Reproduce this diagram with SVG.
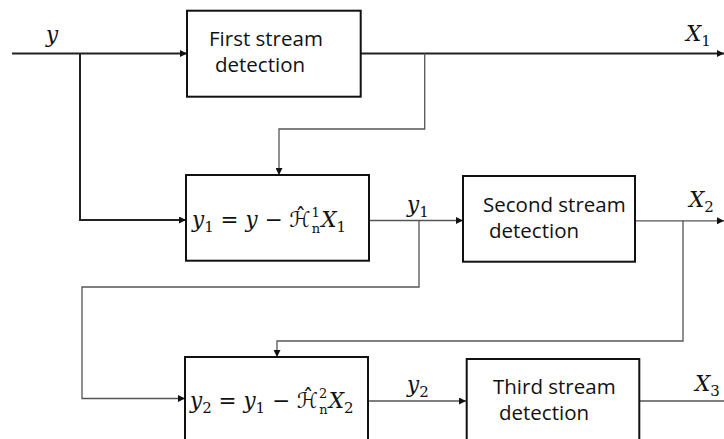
<svg xmlns="http://www.w3.org/2000/svg" width="724" height="439" viewBox="0 0 724 439">
<defs>
<marker id="ah" viewBox="0 0 10 10" refX="10" refY="5" markerWidth="7" markerHeight="7" markerUnits="userSpaceOnUse" orient="auto">
<path d="M0,0 L10,5 L0,10 z" fill="#111"/>
</marker>
<style>
.box{fill:#fff;stroke:#111;stroke-width:2}
.lbl{font-family:"Open Sans","Noto Sans",sans-serif;font-size:20.5px;fill:#111}
.m{font-family:"DejaVu Serif","Liberation Serif",serif;font-size:21.5px;fill:#111}
.mi{font-style:italic}
.h{font-family:"DejaVu Sans","DejaVu Serif",serif;font-style:normal}
.thick{fill:none;stroke:#222;stroke-width:2}
.thin{fill:none;stroke:#555;stroke-width:1.3}
</style>
</defs>
<g id="connectors">
<path class="thick" d="M12,53.5 H187" marker-end="url(#ah)"/>
<path class="thick" d="M80,53.5 V220 H186" marker-end="url(#ah)"/>
<path class="thick" d="M361,53.5 H724" marker-end="url(#ah)"/>
<path class="thin" d="M424.7,53.5 V129 H279 V175" marker-end="url(#ah)"/>
<path class="thin" d="M369,220.5 H463" marker-end="url(#ah)"/>
<path class="thin" d="M419,220.5 V287 H82 V398.5 H185" marker-end="url(#ah)"/>
<path class="thin" d="M635,220.8 H724" marker-end="url(#ah)"/>
<path class="thin" d="M683,220.8 V341 H277 V357" marker-end="url(#ah)"/>
<path class="thin" d="M368,401 H466" marker-end="url(#ah)"/>
<path class="thin" d="M639,401 H724"/>
</g>
<g id="label-y"><text class="m mi" x="46" y="42">y</text></g>
<g id="label-X1"><text class="m" x="686" y="41"><tspan class="mi">X</tspan><tspan font-size="15" dy="5">1</tspan></text></g>
<g id="label-y1"><text class="m" x="407" y="212"><tspan class="mi">y</tspan><tspan font-size="15" dy="5">1</tspan></text></g>
<g id="label-X2"><text class="m" x="689" y="207"><tspan class="mi">X</tspan><tspan font-size="15" dy="5">2</tspan></text></g>
<g id="label-y2"><text class="m" x="407" y="392"><tspan class="mi">y</tspan><tspan font-size="15" dy="5">2</tspan></text></g>
<g id="label-X3"><text class="m" x="695" y="391"><tspan class="mi">X</tspan><tspan font-size="15" dy="5">3</tspan></text></g>
<g id="first">
<rect class="box" x="187" y="10.7" width="173.7" height="86"/>
<text class="lbl" x="209" y="46">First stream</text>
<text class="lbl" x="215" y="72">detection</text>
</g>
<g id="sub1">
<rect class="box" x="186" y="175" width="183" height="85.7"/>
<text class="m" x="192" y="227"><tspan class="mi">y</tspan><tspan font-size="15" dy="5">1</tspan><tspan dy="-5"> = </tspan><tspan class="mi">y</tspan><tspan> − </tspan><tspan class="h">ℋ̂</tspan><tspan font-size="13" dx="1" dy="-10">1</tspan><tspan font-size="13" dx="-8" dy="16">n</tspan><tspan class="mi" dx="1" dy="-6">X</tspan><tspan font-size="15" dy="5">1</tspan></text>
</g>
<g id="second">
<rect class="box" x="463" y="176" width="172" height="85.7"/>
<text class="lbl" x="483" y="212">Second stream</text>
<text class="lbl" x="489" y="238">detection</text>
</g>
<g id="sub2">
<rect class="box" x="185" y="357" width="183" height="90"/>
<text class="m" x="190" y="408"><tspan class="mi">y</tspan><tspan font-size="15" dy="5">2</tspan><tspan dy="-5"> = </tspan><tspan class="mi">y</tspan><tspan font-size="15" dy="5">1</tspan><tspan dy="-5"> − </tspan><tspan class="h">ℋ̂</tspan><tspan font-size="13" dx="1" dy="-10">2</tspan><tspan font-size="13" dx="-8" dy="16">n</tspan><tspan class="mi" dx="1" dy="-6">X</tspan><tspan font-size="15" dy="5">2</tspan></text>
</g>
<g id="third">
<rect class="box" x="466.7" y="359" width="172.6" height="90"/>
<text class="lbl" x="493" y="394">Third stream</text>
<text class="lbl" x="499" y="420">detection</text>
</g>
</svg>
